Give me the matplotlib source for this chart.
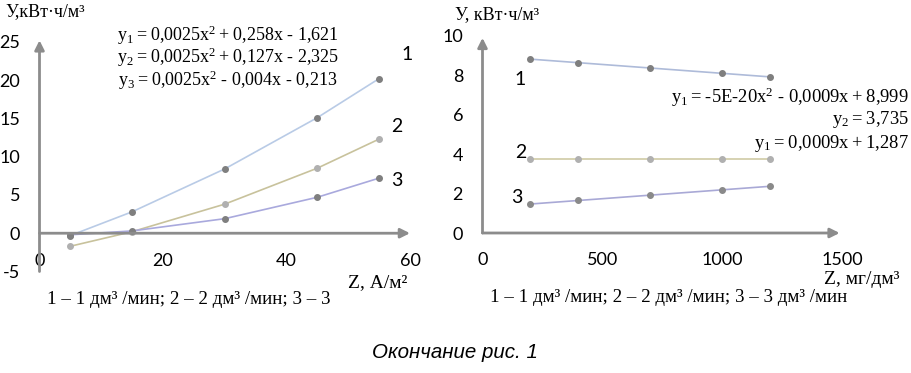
import numpy as np
import matplotlib
matplotlib.use('Agg')
import matplotlib.pyplot as plt

plt.rcParams['font.family'] = ['Lato', 'DejaVu Sans']
plt.rcParams['axes.unicode_minus'] = False
plt.rcParams['mathtext.fontset'] = 'custom'
plt.rcParams['mathtext.rm'] = 'Liberation Serif'

# левый график: Z, А/м²
z_left = [5, 15, 30, 45, 55]
y1_left = [-0.3, 2.8, 8.4, 15.1, 20.2]
y2_left = [-1.7, 0.2, 3.8, 8.5, 12.3]
y3_left = [-0.2, 0.3, 1.9, 4.7, 7.2]
xticks_left = [0, 20, 40, 60]
yticks_left = [-5, 0, 5, 10, 15, 20, 25]

# правый график: Z, мг/дм³
z_right = [200, 400, 700, 1000, 1200]
y1_right = [8.82, 8.64, 8.37, 8.10, 7.92]
y2_right = [3.735, 3.735, 3.735, 3.735, 3.735]
y3_right = [1.47, 1.65, 1.92, 2.19, 2.37]
xticks_right = [0, 500, 1000, 1500]
yticks_right = [0, 2, 4, 6, 8, 10]

M = r'\text{ - }'
eq_left = [r'$\mathregular{y_1 = 0{,}0025x^2 + 0{,}258x' + M + r'1{,}621}$',
           r'$\mathregular{y_2 = 0{,}0025x^2 + 0{,}127x' + M + r'2{,}325}$',
           r'$\mathregular{y_3 = 0{,}0025x^2' + M + r'0{,}004x' + M + r'0{,}213}$']
eq_right = [r'$\mathregular{y_1 = \text{-}5E\text{-}20x^2' + M + r'0{,}0009x + 8{,}999}$',
            r'$\mathregular{y_2 = 3{,}735}$',
            r'$\mathregular{y_1 = 0{,}0009x + 1{,}287}$']

AXC = '#8c8c8c'
SERIF = 'Liberation Serif'
W, H = 911, 373

fig = plt.figure(figsize=(W / 100, H / 100), dpi=100)


def px_axes(x0, x1, y_top, y_bot):
    return fig.add_axes([x0 / W, 1 - y_bot / H, (x1 - x0) / W, (y_bot - y_top) / H])


def setup(ax, xlim, ylim, xt, yt, xarrow, ybot, ytop, xpad):
    ax.set_xlim(*xlim)
    ax.set_ylim(*ylim)
    ax.patch.set_alpha(0)
    ax.spines['bottom'].set_position(('data', 0))
    ax.spines['left'].set_position(('data', 0))
    for s in ax.spines.values():
        s.set_visible(False)
    ax.set_xticks(xt)
    ax.set_yticks(yt)
    ax.tick_params(length=0, labelsize=13)
    ax.tick_params(axis='x', pad=xpad)
    ax.tick_params(axis='y', pad=14)
    # оси со стрелками
    ax.annotate('', xy=(xarrow, 0), xytext=(0, 0), annotation_clip=False,
                arrowprops=dict(arrowstyle='-|>', color=AXC, lw=2, mutation_scale=14,
                                shrinkA=0, shrinkB=0))
    ax.annotate('', xy=(0, ytop), xytext=(0, ybot), annotation_clip=False,
                arrowprops=dict(arrowstyle='-|>', color=AXC, lw=2, mutation_scale=14,
                                shrinkA=0, shrinkB=0))


# ---- левый
ax1 = px_axes(39.5, 39.5 + 62 * 6.175, 38, 271.5)
setup(ax1, (0, 62), (-5, 25.5), xticks_left, yticks_left, 60, -5, 25.2, 14)
ax1.plot(z_left, y1_left, '-', color='#b9cbe6', lw=1.2, marker='o', ms=4,
         mfc='#7f7f7f', mec='#7f7f7f')
ax1.plot(z_left, y2_left, '-', color='#c8c29c', lw=1.2, marker='o', ms=4,
         mfc='#b0b0b0', mec='#b0b0b0')
ax1.plot(z_left, y3_left, '-', color='#a9a9dd', lw=1.2, marker='o', ms=4,
         mfc='#7f7f7f', mec='#7f7f7f')
ax1.text(59.5, 23.3, '1', fontsize=14, ha='center', va='center')
ax1.text(57.9, 14.0, '2', fontsize=14, ha='center', va='center')
ax1.text(57.9, 6.9, '3', fontsize=14, ha='center', va='center')

# ---- правый
ax2 = px_axes(482.5, 482.5 + 1560 * 0.2397, 28, 233)
setup(ax2, (0, 1560), (0, 10.4), xticks_right, yticks_right, 1490, 0, 9.9, 13.5)
ax2.plot(z_right, y1_right, '-', color='#aebbd9', lw=1.2, marker='o', ms=4,
         mfc='#7f7f7f', mec='#7f7f7f')
ax2.plot(z_right, y2_right, '-', color='#cfcba5', lw=1.2, marker='o', ms=4,
         mfc='#b0b0b0', mec='#b0b0b0')
ax2.plot(z_right, y3_right, '-', color='#a9a9d6', lw=1.2, marker='o', ms=4,
         mfc='#8a8a8a', mec='#8a8a8a')
ax2.text(155, 7.8, '1', fontsize=14, ha='center', va='center')
ax2.text(159, 4.1, '2', fontsize=14, ha='center', va='center')
ax2.text(142, 1.8, '3', fontsize=14, ha='center', va='center')

# ---- надписи
fig.text(228 / W, 1 - 23.5 / H, '\n'.join(eq_left), family=SERIF, fontsize=13,
         ha='center', va='top', multialignment='center', linespacing=0.95)
for s, yy in zip(eq_right, [97, 119, 143]):
    fig.text(909 / W, 1 - yy / H, s, family=SERIF, fontsize=13.3,
             ha='right', va='center')

fig.text(5 / W, 1 - 12 / H, 'У,кВт·ч/м³', family=SERIF, fontsize=13,
         ha='left', va='center')
fig.text(455 / W, 1 - 15 / H, 'У, кВт·ч/м³', family=SERIF, fontsize=13,
         ha='left', va='center')
fig.text(407 / W, 1 - 283 / H, 'Z, А/м²', family=SERIF, fontsize=14,
         ha='right', va='center')
fig.text(899 / W, 1 - 279 / H, 'Z, мг/дм³', family=SERIF, fontsize=14,
         ha='right', va='center')
fig.text(47 / W, 1 - 300 / H, '1 – 1 дм³ /мин; 2 – 2 дм³ /мин; 3 – 3',
         family=SERIF, fontsize=13.7, ha='left', va='center')
fig.text(490 / W, 1 - 298 / H, '1 – 1 дм³ /мин; 2 – 2 дм³ /мин; 3 – 3 дм³ /мин',
         family=SERIF, fontsize=13.6, ha='left', va='center')
fig.text(455 / W, 1 - 352 / H, 'Окончание рис. 1', family='Liberation Sans',
         style='italic', fontsize=14.8, ha='center', va='center')

fig.savefig('out.png', dpi=100)
